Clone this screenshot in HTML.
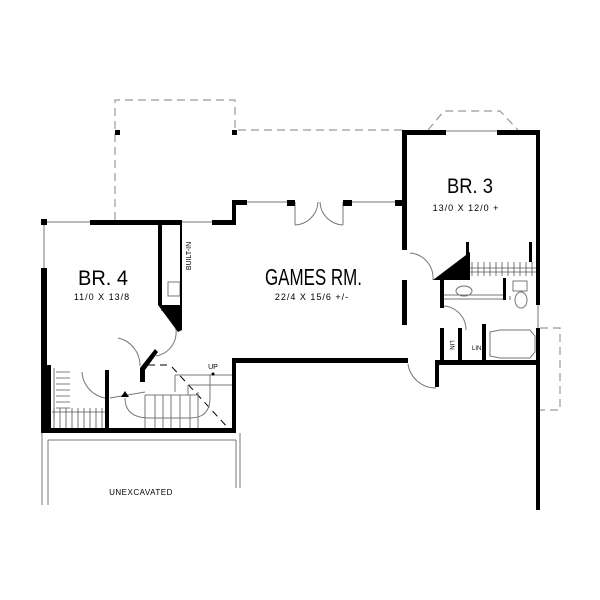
<!DOCTYPE html>
<html><head><meta charset="utf-8"><style>
html,body{margin:0;padding:0;background:#fff}
svg{display:block}
text{font-family:"Liberation Sans",sans-serif;fill:#000}
</style></head><body>
<svg width="600" height="600" viewBox="0 0 600 600" xmlns="http://www.w3.org/2000/svg">
<rect width="600" height="600" fill="#fff"/>
<!-- dashed outlines -->
<g fill="none" stroke="#999" stroke-width="1.2" stroke-dasharray="8,5">
<path d="M115,220 V100 H235 V130"/>
<path d="M238,130 H402"/>
<path d="M428,130 L444,111 H500 L518,130"/>
<path d="M540,328 H560 V410 H540"/>
</g>
<path d="M148,365 H168 M172,367 L230,430" fill="none" stroke="#000" stroke-width="1" stroke-dasharray="7,5"/>
<!-- thin lines -->
<g fill="none" stroke="#777" stroke-width="1">
<path d="M44,222 H90 M44,222 V268 M182,222 H212 M247,202 H287 M352,202 H395 M445,131 H497 M538,305 V328"/>
<path d="M42,433 V505 M48,440 V505 M48,440 H236 M240,433 V488 M236,440 V488"/>
<path d="M175,375 H232 M188,385 H232 M175,375 V392 M188,385 V395 M145,395 H198 M145,395 V430 M155,395 V430 M163,395 V430 M171,395 V430 M180,395 V430 M190,395 V430 M198,392 V430 M110,398 L145,392"/>
<path d="M125,398 Q125,418 150,418 H190 Q210,418 210,398 V375"/>
<!-- door swings -->
<path d="M161,310 A24,24 0 0 1 156,356"/>
<path d="M118,338 A28,28 0 0 1 140,366"/>
<path d="M82,372 A28,28 0 0 0 105,398"/>
<path d="M410,253 A25,25 0 0 1 433,280"/>
<path d="M440,306 A24,24 0 0 1 466,330"/>
<path d="M408,364 A28,28 0 0 0 436,388"/>
<path d="M295,202 V225 M343,202 V225 M295,225 A24,24 0 0 0 318,202 M343,225 A24,24 0 0 1 320,202"/>
<path d="M444,295 H503 M444,299 H503 M510,296 V300"/>
<ellipse cx="464" cy="291" rx="8" ry="5"/>
<ellipse cx="521" cy="300" rx="6" ry="8"/>
<rect x="513" y="281" width="14" height="10"/>
<path d="M490,332 L500,330 H530 L535,336 V352 L530,358 H500 L490,356 Z"/>
<rect x="168" y="282" width="12" height="14"/>
</g>
<circle cx="213" cy="374" r="1.5" fill="#000"/>
<polygon points="121,397 125,391 129,397" fill="#000"/>
<!-- closet hatching -->
<g stroke="#555" stroke-width="0.8">
<path d="M54,368 V420 M56,372 H70 M56,378 H70 M56,384 H70 M56,390 H70 M56,396 H70 M56,402 H70 M56,408 H70"/>
<path d="M52,412 H105 M54,408 V428 M60,408 V428 M66,408 V428 M72,408 V428 M78,408 V428 M84,408 V428 M90,408 V428 M96,408 V428 M102,408 V428"/>
<path d="M468,268 H536 M468,272 H536 M472,262 V276 M478,262 V276 M484,262 V276 M490,262 V276 M496,262 V276 M502,262 V276 M508,262 V276 M514,262 V276 M520,262 V276 M526,262 V276 M532,262 V276"/>
</g>
<!-- thick walls -->
<g fill="#000">
<rect x="41" y="219" width="6" height="6"/>
<rect x="115" y="130" width="5" height="5"/>
<rect x="232" y="130" width="5" height="5"/>
<rect x="90" y="220" width="92" height="5"/>
<rect x="158" y="220" width="4" height="85"/>
<rect x="180" y="220" width="2" height="85"/>
<polygon points="158,305 182,305 182,330 178,332"/>
<rect x="212" y="220" width="24" height="5"/>
<rect x="232" y="200" width="4" height="25"/>
<rect x="232" y="200" width="15" height="5"/>
<rect x="287" y="200" width="8" height="6"/>
<rect x="343" y="200" width="9" height="6"/>
<rect x="395" y="200" width="8" height="6"/>
<rect x="402" y="130" width="5" height="120"/>
<rect x="402" y="280" width="5" height="45"/>
<rect x="402" y="130" width="44" height="5"/>
<rect x="497" y="130" width="43" height="5"/>
<rect x="536" y="130" width="4" height="175"/>
<rect x="536" y="328" width="4" height="182"/>
<rect x="41" y="268" width="6" height="165"/>
<rect x="41" y="365" width="10" height="68"/>
<rect x="41" y="428" width="195" height="5"/>
<rect x="232" y="360" width="4" height="73"/>
<rect x="232" y="358" width="176" height="5"/>
<rect x="437" y="360" width="103" height="5"/>
<rect x="435" y="360" width="4" height="27"/>
<rect x="105" y="370" width="4" height="60"/>
<polygon points="140,382 145,382 145,370 158,352 155,349 140,368"/>
<polygon points="433,280 470,252 470,280"/>
<rect x="440" y="278" width="4" height="30"/>
<rect x="440" y="328" width="4" height="34"/>
<rect x="458" y="328" width="4" height="34"/>
<rect x="482" y="324" width="4" height="38"/>
<rect x="503" y="278" width="3" height="22"/>
<rect x="466" y="242" width="3" height="20"/>
<rect x="529" y="242" width="3" height="20"/>
</g>
<!-- text -->
<text x="78" y="285" font-size="21" textLength="50" lengthAdjust="spacingAndGlyphs">BR. 4</text>
<text x="102" y="300" font-size="9" text-anchor="middle" letter-spacing="1">11/0 X 13/8</text>
<text x="265" y="285" font-size="23" textLength="97" lengthAdjust="spacingAndGlyphs">GAMES RM.</text>
<text x="312" y="300" font-size="9" text-anchor="middle" letter-spacing="1">22/4 X 15/6 +/-</text>
<text x="447" y="193" font-size="21" textLength="46" lengthAdjust="spacingAndGlyphs">BR. 3</text>
<text x="466" y="211" font-size="9" text-anchor="middle" letter-spacing="1">13/0 X 12/0 +</text>
<text x="141" y="495" font-size="8" text-anchor="middle" letter-spacing="0.5">UNEXCAVATED</text>
<text x="213" y="369" font-size="7" text-anchor="middle">UP</text>
<text x="191" y="256" font-size="7" text-anchor="middle" transform="rotate(-90 191 256)">BUILT-IN</text>
<text x="472" y="350" font-size="6">LIN</text>
<text x="450" y="345" font-size="6" transform="rotate(90 450 345)" text-anchor="middle">LIN</text>
</svg>
</body></html>
